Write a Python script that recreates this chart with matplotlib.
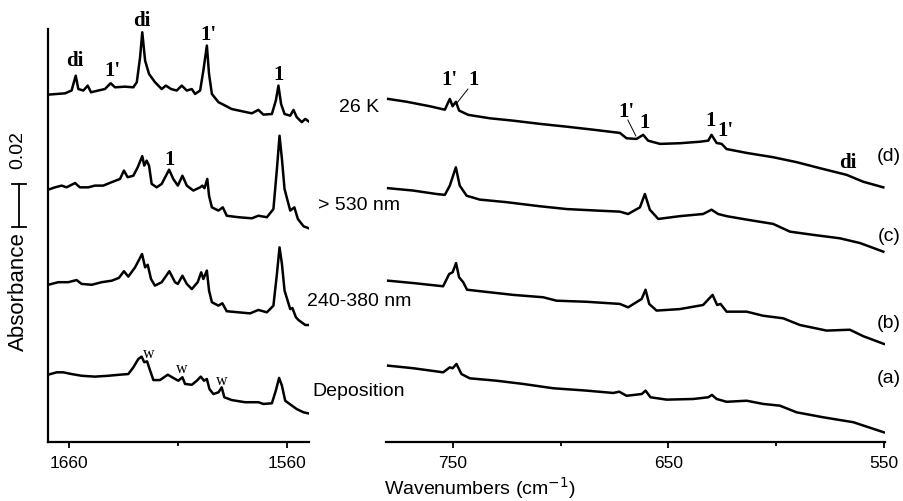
import matplotlib
matplotlib.use("Agg")
import matplotlib.pyplot as plt
import matplotlib.transforms as mtransforms
from matplotlib.ticker import FixedLocator

# ---- spectra (wavenumber, absorbance incl. stacking) ----
# 1670-1550 cm-1 region
hi_wn_d = [1669.5, 1661.8, 1658.8, 1656.9, 1655.7, 1653.4, 1651.4, 1649.9, 1646.6, 1643.5,
           1640.9, 1638.9, 1634.3, 1630.5, 1628.9, 1627.4, 1626.4, 1625.1, 1623.3, 1620.6,
           1617.5, 1615.6, 1613.2, 1610.6, 1608.3, 1606.0, 1603.7, 1602.2, 1599.9, 1598.4,
           1596.8, 1595.8, 1594.5, 1591.5, 1588.4, 1585.4, 1580.8, 1576.2, 1573.2, 1570.9,
           1567.0, 1565.2, 1564.0, 1562.8, 1561.2, 1558.6, 1557.1, 1555.6, 1553.3, 1551.7,
           1550.2]
hi_ab_d = [0.1615, 0.1621, 0.1634, 0.1703, 0.1641, 0.1634, 0.1657, 0.1626, 0.1634, 0.1641,
           0.1668, 0.1649, 0.1652, 0.1649, 0.1673, 0.1789, 0.1905, 0.1773, 0.1711, 0.1673,
           0.1641, 0.1657, 0.1641, 0.1634, 0.1657, 0.1634, 0.1641, 0.1618, 0.1634, 0.1727,
           0.1843, 0.1711, 0.1618, 0.1580, 0.1564, 0.1548, 0.1538, 0.1528, 0.1544, 0.1522,
           0.1525, 0.1587, 0.1657, 0.1572, 0.1525, 0.1517, 0.1544, 0.1510, 0.1487, 0.1502,
           0.1491]

hi_wn_c = [1669.5, 1666.4, 1663.3, 1661.1, 1657.2, 1655.0, 1651.1, 1648.1, 1644.3, 1640.4,
           1636.6, 1634.8, 1633.1, 1630.5, 1628.5, 1626.4, 1625.5, 1624.4, 1623.3, 1622.1,
           1619.8, 1617.5, 1614.1, 1612.2, 1610.1, 1608.0, 1606.0, 1603.0, 1599.9, 1598.9,
           1597.9, 1596.6, 1595.8, 1594.5, 1591.5, 1589.5, 1587.7, 1582.3, 1576.2, 1573.2,
           1569.3, 1566.3, 1564.7, 1563.5, 1562.4, 1561.2, 1558.6, 1556.7, 1555.1, 1552.5,
           1550.2]
hi_ab_c = [0.1173, 0.1184, 0.1192, 0.1184, 0.1204, 0.1184, 0.1184, 0.1192, 0.1192, 0.1208,
           0.1223, 0.1262, 0.1231, 0.1238, 0.1277, 0.1329, 0.1285, 0.1308, 0.1285, 0.1200,
           0.1184, 0.1200, 0.1266, 0.1223, 0.1192, 0.1238, 0.1192, 0.1169, 0.1184, 0.1192,
           0.1180, 0.1223, 0.1145, 0.1091, 0.1076, 0.1091, 0.1052, 0.1045, 0.1040, 0.1052,
           0.1045, 0.1083, 0.1269, 0.1424, 0.1316, 0.1176, 0.1076, 0.1091, 0.1037, 0.1003,
           0.0994]

hi_wn_b = [1669.5, 1664.9, 1660.3, 1656.5, 1654.2, 1649.6, 1645.0, 1640.4, 1637.1, 1634.8,
           1632.8, 1629.7, 1626.5, 1625.1, 1623.9, 1622.4, 1620.6, 1617.5, 1614.0, 1611.4,
           1610.1, 1608.0, 1606.0, 1603.7, 1601.0, 1599.4, 1598.4, 1596.8, 1595.8, 1594.5,
           1591.5, 1589.7, 1587.7, 1582.3, 1577.0, 1573.2, 1569.3, 1566.3, 1564.7, 1563.5,
           1562.4, 1561.2, 1558.6, 1557.6, 1556.0, 1554.8, 1551.7, 1550.2]
hi_ab_b = [0.0731, 0.0743, 0.0743, 0.0753, 0.0735, 0.0731, 0.0743, 0.0750, 0.0763, 0.0794,
           0.0769, 0.0812, 0.0874, 0.0812, 0.0824, 0.0758, 0.0727, 0.0743, 0.0794, 0.0743,
           0.0735, 0.0773, 0.0735, 0.0711, 0.0743, 0.0789, 0.0758, 0.0797, 0.0704, 0.0650,
           0.0634, 0.0645, 0.0608, 0.0603, 0.0598, 0.0614, 0.0603, 0.0634, 0.0781, 0.0905,
           0.0828, 0.0704, 0.0618, 0.0623, 0.0580, 0.0567, 0.0544, 0.0544]

hi_wn_a = [1669.5, 1665.6, 1662.6, 1658.8, 1654.2, 1648.1, 1642.0, 1636.6, 1632.8, 1630.5,
           1628.2, 1626.7, 1625.5, 1624.2, 1622.8, 1621.3, 1618.3, 1614.7, 1612.2, 1609.9,
           1608.0, 1606.8, 1603.7, 1601.4, 1599.6, 1598.1, 1596.8, 1595.6, 1593.8, 1591.5,
           1590.0, 1588.8, 1585.4, 1579.3, 1573.2, 1570.9, 1567.0, 1565.2, 1563.7, 1562.4,
           1560.9, 1557.8, 1555.6, 1552.5, 1550.2]
hi_ab_a = [0.0313, 0.0324, 0.0324, 0.0316, 0.0308, 0.0304, 0.0308, 0.0313, 0.0316, 0.0347,
           0.0386, 0.0397, 0.0371, 0.0375, 0.0332, 0.0288, 0.0288, 0.0313, 0.0298, 0.0285,
           0.0301, 0.0270, 0.0266, 0.0285, 0.0304, 0.0285, 0.0293, 0.0246, 0.0223, 0.0231,
           0.0254, 0.0208, 0.0195, 0.0185, 0.0185, 0.0177, 0.0180, 0.0239, 0.0298, 0.0262,
           0.0192, 0.0169, 0.0153, 0.0138, 0.0133]

# 780-550 cm-1 region
lo_wn_d = [780.0, 771.5, 760.7, 753.7, 751.4, 750.1, 748.6, 747.1, 742.9, 732.8,
           722.0, 709.6, 697.2, 684.9, 672.5, 669.4, 664.8, 661.7, 659.4, 653.9,
           644.7, 635.4, 631.5, 630.0, 627.6, 625.3, 623.0, 613.7, 601.4, 590.5,
           579.7, 567.3, 559.6, 550.3]
lo_ab_d = [0.1595, 0.1582, 0.1561, 0.1545, 0.1595, 0.1561, 0.1582, 0.1541, 0.1521, 0.1505,
           0.1494, 0.1479, 0.1466, 0.1452, 0.1437, 0.1412, 0.1409, 0.1428, 0.1401, 0.1386,
           0.1389, 0.1396, 0.1401, 0.1428, 0.1390, 0.1386, 0.1362, 0.1344, 0.1324, 0.1301,
           0.1273, 0.1242, 0.1210, 0.1184]

lo_wn_c = [780.0, 768.4, 757.6, 753.7, 751.4, 748.6, 746.8, 743.6, 737.5, 725.1,
           709.6, 697.2, 683.3, 672.5, 668.7, 663.2, 660.9, 658.6, 654.7, 644.7,
           633.9, 630.0, 626.9, 623.0, 613.7, 601.4, 593.6, 582.8, 570.4, 561.1,
           550.3]
lo_ab_c = [0.1180, 0.1169, 0.1153, 0.1149, 0.1192, 0.1277, 0.1192, 0.1145, 0.1127, 0.1115,
           0.1096, 0.1083, 0.1076, 0.1071, 0.1060, 0.1091, 0.1153, 0.1080, 0.1037, 0.1050,
           0.1060, 0.1080, 0.1060, 0.1050, 0.1034, 0.1014, 0.0978, 0.0963, 0.0947, 0.0925,
           0.0885]

lo_wn_b = [780.0, 768.4, 754.5, 751.7, 750.1, 748.5, 747.1, 745.2, 743.4, 732.8,
           722.0, 708.1, 701.9, 688.0, 672.5, 668.7, 662.4, 660.6, 658.9, 655.5,
           644.7, 633.9, 629.5, 627.4, 625.8, 623.0, 613.7, 606.0, 596.7, 589.0,
           576.6, 565.8, 559.6, 550.0]
lo_ab_b = [0.0750, 0.0739, 0.0724, 0.0781, 0.0789, 0.0832, 0.0766, 0.0743, 0.0708, 0.0696,
           0.0684, 0.0673, 0.0657, 0.0652, 0.0642, 0.0626, 0.0665, 0.0708, 0.0642, 0.0611,
           0.0618, 0.0637, 0.0684, 0.0637, 0.0642, 0.0606, 0.0606, 0.0587, 0.0575, 0.0544,
           0.0518, 0.0522, 0.0492, 0.0456]

lo_wn_a = [780.0, 768.4, 754.5, 751.4, 750.1, 748.3, 746.0, 742.1, 729.7, 717.4,
           703.5, 688.0, 675.6, 672.8, 669.4, 662.4, 660.6, 658.3, 650.8, 638.5,
           631.5, 629.8, 627.6, 623.0, 613.7, 606.0, 598.3, 590.5, 578.2, 564.2,
           550.0]
lo_ab_a = [0.0355, 0.0343, 0.0324, 0.0347, 0.0343, 0.0363, 0.0316, 0.0296, 0.0285, 0.0270,
           0.0250, 0.0239, 0.0228, 0.0234, 0.0215, 0.0223, 0.0239, 0.0208, 0.0197, 0.0200,
           0.0208, 0.0219, 0.0200, 0.0187, 0.0192, 0.0177, 0.0169, 0.0138, 0.0115, 0.0092,
           0.0045]

condition_labels = ['26 K', '> 530 nm', '240-380 nm', 'Deposition']
trace_letters = ['(d)', '(c)', '(b)', '(a)']

sans = 'Liberation Sans'
serif = 'Liberation Serif'
lw = 1.8

fig = plt.figure(figsize=(9.04, 5.02), dpi=100)
ax1 = fig.add_axes([0.0531, 0.1175, 0.2887, 0.8227])
ax2 = fig.add_axes([0.427, 0.1175, 0.552, 0.8227])

for wn, ab in [(hi_wn_d, hi_ab_d), (hi_wn_c, hi_ab_c), (hi_wn_b, hi_ab_b), (hi_wn_a, hi_ab_a)]:
    ax1.plot(wn, ab, color='black', lw=lw, solid_joinstyle='round')
for wn, ab in [(lo_wn_d, lo_ab_d), (lo_wn_c, lo_ab_c), (lo_wn_b, lo_ab_b), (lo_wn_a, lo_ab_a)]:
    ax2.plot(wn, ab, color='black', lw=lw, solid_joinstyle='round')

ax1.set_xlim(1669.6, 1550)
ax2.set_xlim(781, 549.5)
for ax in (ax1, ax2):
    ax.set_ylim(0, 0.192)
    ax.spines['top'].set_visible(False)
    ax.spines['right'].set_visible(False)
    ax.spines['bottom'].set_linewidth(1.6)
    ax.spines['left'].set_linewidth(1.6)
    ax.set_yticks([])
    ax.tick_params(axis='x', which='major', direction='out', length=4, width=1.3,
                   pad=5, labelsize=12.5)
    ax.tick_params(axis='x', which='minor', direction='out', length=3, width=1.3)
ax2.spines['left'].set_visible(False)

ax1.xaxis.set_major_locator(FixedLocator([1660, 1560]))
ax1.xaxis.set_minor_locator(FixedLocator([1610]))
ax2.xaxis.set_major_locator(FixedLocator([750, 650, 550]))
ax2.xaxis.set_minor_locator(FixedLocator([700, 600]))
for ax in (ax1, ax2):
    for lab in ax.get_xticklabels():
        lab.set_family(sans)

# peak assignments
bold = dict(family=serif, fontweight='bold', fontsize=15, ha='center', va='center')
ax1.text(1657.2, 0.1776, 'di', **bold)
ax1.text(1640.3, 0.1730, "1'", **bold)
ax1.text(1626.5, 0.1962, 'di', **bold)
ax1.text(1596.2, 0.1897, "1'", **bold)
ax1.text(1564.1, 0.1711, '1', **bold)
ax1.text(1614.1, 0.1316, '1', **bold)
wlab = dict(family=serif, fontsize=11.5, ha='center', va='center')
ax1.text(1623.3, 0.0414, 'w', **wlab)
ax1.text(1608.2, 0.0344, 'w', **wlab)
ax1.text(1589.8, 0.0288, 'w', **wlab)

ax2.text(751.4, 0.1688, "1'", **bold)
ax2.text(740.3, 0.1688, '1', **bold)
ax2.plot([743.0, 748.1], [0.1641, 0.1576], color='black', lw=0.7)
ax2.text(669.3, 0.1539, "1'", **bold)
ax2.text(660.9, 0.1488, '1', **bold)
ax2.plot([668.8, 665.1], [0.1497, 0.1423], color='black', lw=0.7)
ax2.text(630.3, 0.1497, '1', **bold)
ax2.text(623.3, 0.1451, "1'", **bold)
ax2.text(566.7, 0.1302, 'di', **bold)

# condition labels between the panels, trace letters on the right
cond_y = [0.1560, 0.1102, 0.0659, 0.0239]
for lab, yv in zip(condition_labels, cond_y):
    fig.text(359 / 904, 0.1175 + yv / 0.192 * 0.8227, lab, family=sans, fontsize=14,
             ha='center', va='center')
letter_y = [0.1330, 0.0958, 0.0555, 0.0300]
for lab, yv in zip(trace_letters, letter_y):
    fig.text(889 / 904, 0.1175 + yv / 0.192 * 0.8227, lab, family=sans, fontsize=14,
             ha='center', va='center')

# absorbance scale bar
tr = mtransforms.blended_transform_factory(ax1.transAxes, ax1.transData)
ax1.plot([-0.111, -0.111], [0.100, 0.120], color='black', lw=1.3, transform=tr, clip_on=False)
ax1.plot([-0.138, -0.084], [0.100, 0.100], color='black', lw=1.3, transform=tr, clip_on=False)
ax1.plot([-0.138, -0.084], [0.120, 0.120], color='black', lw=1.3, transform=tr, clip_on=False)
ax1.text(-0.115, 0.1360, '0.02', transform=tr, rotation=90, family=sans, fontsize=14,
         ha='center', va='center')
fig.text(18 / 904, 1 - 292 / 502, 'Absorbance', rotation=90, family=sans, fontsize=16,
         ha='center', va='center')
fig.text(480 / 904, 1 - 488 / 502, r'Wavenumbers (cm$^{-1}$)', family=sans, fontsize=14,
         ha='center', va='center')

fig.savefig('out.png', dpi=100)
